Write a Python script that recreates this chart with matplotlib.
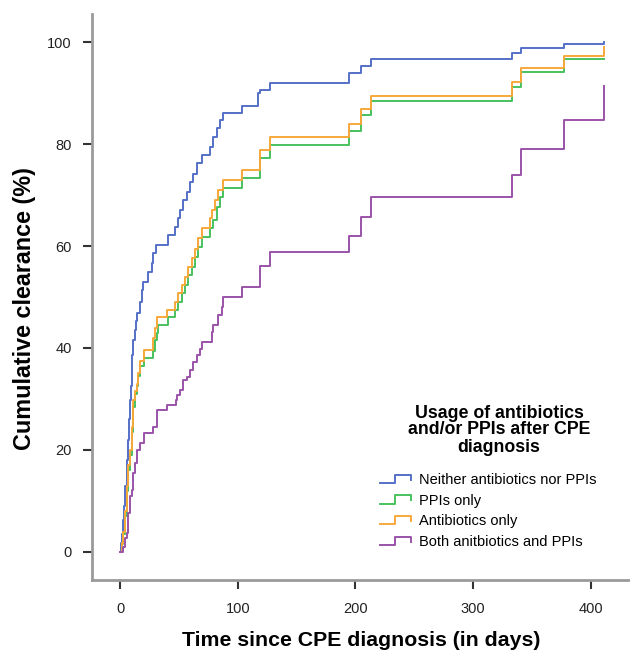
import matplotlib
matplotlib.use("Agg")
import matplotlib.pyplot as plt
from matplotlib.legend_handler import HandlerBase
from matplotlib.lines import Line2D

plt.rcParams["font.family"] = ["Liberation Sans", "DejaVu Sans"]

# cumulative clearance (%), step "post"
days_neither = [0, 0.5, 1.5, 2.8, 3.5, 4.5, 5.7, 6.5, 7.5, 8.5, 9.2, 9.9, 10.6, 11.3,
                12.5, 13.3, 14.2, 17, 18.4, 19.8, 24, 26.9, 28.3, 31, 41, 46.7, 49.5,
                51, 53.8, 56.6, 59.5, 62.3, 65.1, 69.4, 76.5, 79.3, 82.1, 85, 87.8,
                103.4, 117.5, 119, 127.4, 194.6, 204.5, 213, 332.8, 341, 377, 411]
clear_neither = [0, 1.7, 3.5, 6.3, 9, 13, 18, 22, 26, 29.8, 32.5, 35.7, 38.6, 41.6,
                 43.5, 45.2, 46.8, 49.1, 51.4, 53, 55, 56.6, 58.6, 60.2, 62.1, 63.8, 65.4,
                 67, 69, 70.6, 72.6, 74.2, 76.2, 77.8, 79.5, 81.4, 83.1, 84.7, 86,
                 87.5, 90, 90.6, 92, 93.9, 95.4, 96.7, 97.9, 98.8, 99.6, 100]

days_ppi = [0, 1.4, 2.8, 4, 5.7, 7, 8.5, 9.9, 11.3, 12.5, 14.2, 15.5, 17, 20, 28.3,
            29.7, 31.5, 32.6, 41, 46.7, 49.5, 52.4, 55.2, 58, 60.9, 63.7, 66.5, 69.4,
            76.5, 79.3, 82.1, 85, 87.8, 103.4, 119, 127.4, 194.6, 204.5, 213, 332.8,
            341, 377, 411]
clear_ppi = [0, 1.5, 3.5, 7, 12, 16, 19, 23.5, 28.5, 31, 32.5, 34.5, 36.5, 38, 39.5,
             41.5, 43, 44.5, 46, 47.5, 49.1, 50.7, 52.3, 54.3, 55.9, 57.9, 59.9, 61.8,
             63.5, 65.1, 67.7, 69.7, 71.3, 73.3, 77.2, 79.8, 82.6, 85.6, 88.4, 91.2,
             94.1, 96.6, 96.6]

days_abx = [0, 1.4, 2.8, 4, 5.7, 7, 8.5, 9.9, 11.3, 12.5, 14.2, 15.5, 17, 20, 28,
            29.5, 31.2, 39.7, 46.7, 49.5, 52.4, 55.2, 58, 60.9, 63.7, 66.5, 69.4,
            76.5, 77.9, 80.7, 83.5, 87.8, 103.4, 119, 127.4, 194.6, 204.5, 213, 332.8,
            341, 377, 411]
clear_abx = [0, 1.7, 4, 8, 13, 17, 20, 24.6, 29.8, 31.5, 33, 35, 37.5, 39.6, 42,
             44, 46.1, 47.5, 49.1, 50.7, 52.4, 54, 55.9, 57.6, 59.5, 61.5, 63.5,
             65.5, 67, 69, 71, 72.9, 74.9, 78.8, 81.3, 84.0, 86.9, 89.5, 92.2,
             94.9, 97.3, 99.0]

days_both = [0, 2.8, 4.2, 5.7, 7.1, 8.5, 9.9, 11.3, 12.7, 14.2, 17, 20.7, 28.3, 31.2,
             39.7, 47.6, 48.2, 51, 53.8, 56.6, 59.5, 62.3, 65.1, 67.9, 69.4, 77.9,
             79.3, 83.5, 86.4, 87.8, 103.4, 119, 127.4, 194.6, 204.5, 213, 332.8, 341,
             377, 411]
clear_both = [0, 1, 2.7, 3.7, 7.6, 10.9, 12.2, 15.5, 17.4, 20, 21.4, 23.3, 24.6, 27.8,
              28.8, 29.8, 30.8, 31.8, 33.7, 34.4, 35.7, 37.2, 38.6, 39.9, 41.2, 43.2,
              44.5, 46.5, 48.1, 50, 52, 56, 58.8, 62, 65.7, 69.7, 74.0, 79.1,
              84.7, 91.4]

groups = ["Neither antibiotics nor PPIs", "PPIs only", "Antibiotics only",
          "Both anitbiotics and PPIs"]
colors = ["#5470c6", "#47c15e", "#f7a838", "#9a52a8"]
series = [(days_neither, clear_neither), (days_ppi, clear_ppi),
          (days_abx, clear_abx), (days_both, clear_both)]


class StepHandler(HandlerBase):
    # little step glyph like the SPSS legend
    def create_artists(self, legend, orig_handle, xdescent, ydescent, width,
                       height, fontsize, trans):
        x0, y0 = -xdescent, -ydescent
        xs = [x0, x0 + 0.5 * width, x0 + 0.5 * width, x0 + width, x0 + width]
        ys = [y0 + 0.1 * height, y0 + 0.1 * height, y0 + 0.9 * height,
              y0 + 0.9 * height, y0 + 0.4 * height]
        ln = Line2D(xs, ys, color=orig_handle.get_color(),
                    linewidth=orig_handle.get_linewidth())
        ln.set_transform(trans)
        return [ln]


fig = plt.figure(figsize=(6.3, 6.56), dpi=100)
ax = fig.add_axes([92 / 630, 1 - 580 / 656, 1 - 92 / 630, (580 - 14) / 656])

handles = []
for (d, c), name, col in zip(series, groups, colors):
    h, = ax.step(d, c, where="post", color=col, linewidth=1.4, label=name)
    handles.append(h)

ax.set_xlim(-23.8, 433.3)
ax.set_ylim(-5.5, 105.5)
ax.set_xticks([0, 100, 200, 300, 400])
ax.set_yticks([0, 20, 40, 60, 80, 100])

for s in ["top", "right"]:
    ax.spines[s].set_visible(False)
for s in ["left", "bottom"]:
    ax.spines[s].set_color("#9a9a9a")
    ax.spines[s].set_linewidth(2)

ax.tick_params(axis="both", direction="out", length=6.5, width=1.5,
               color="#333333", labelsize=10.5, labelcolor="#222222")
ax.tick_params(axis="x", pad=9)
ax.tick_params(axis="y", pad=8)

fig.text(361 / 630, 1 - 640 / 656, "Time since CPE diagnosis (in days)",
         ha="center", va="center", fontsize=15.3, fontweight="bold")
fig.text(25 / 630, 1 - 309 / 656, "Cumulative clearance (%)", rotation=90,
         ha="center", va="center", fontsize=16.8, fontweight="bold")

fig.text(499 / 630, 1 - 430 / 656,
         "Usage of antibiotics\nand/or PPIs after CPE\ndiagnosis",
         ha="center", va="center", fontsize=12.8, fontweight="bold",
         multialignment="center", linespacing=1.0)

ax.legend(handles=handles, loc="upper left",
          bbox_to_anchor=(380 / 630, 1 - 473 / 656),
          bbox_transform=fig.transFigure, frameon=False, borderpad=0,
          borderaxespad=0, fontsize=10.5, handlelength=2.1, handleheight=0.7,
          handletextpad=0.6, labelspacing=0.45,
          handler_map={Line2D: StepHandler()})

fig.savefig("out.png", dpi=100)
